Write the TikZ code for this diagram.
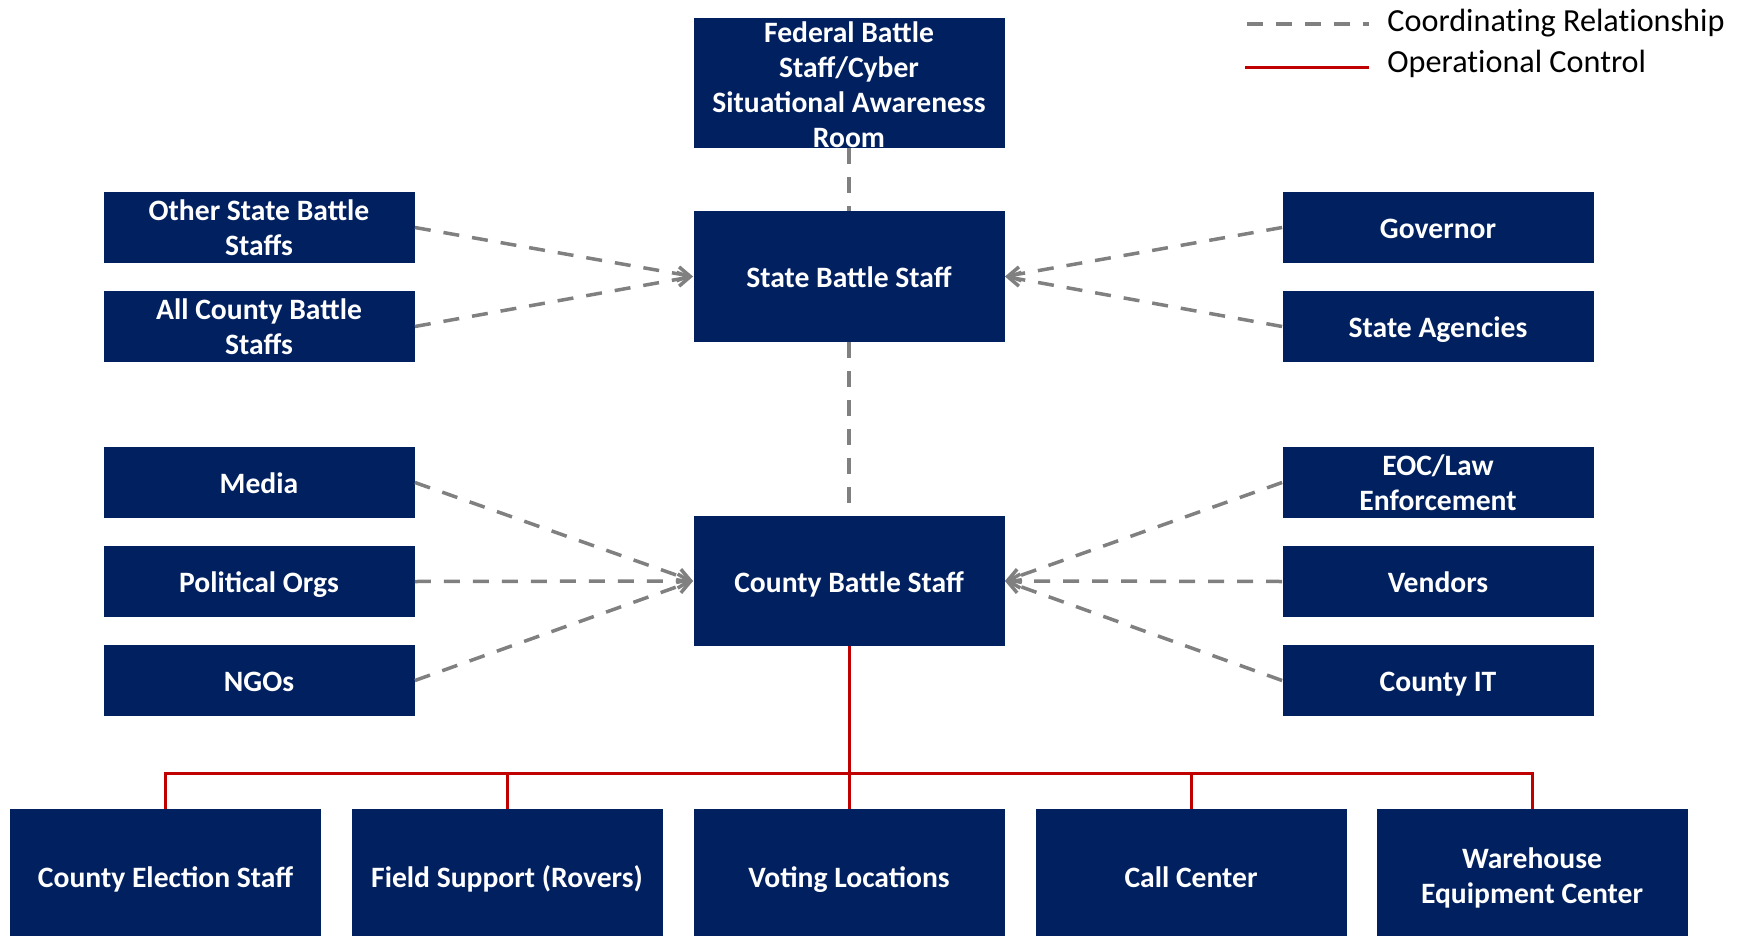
\documentclass[tikz,border=0pt]{standalone}
\usepackage{fontspec}
\setmainfont{Carlito}
\usetikzlibrary{arrows.meta}
\definecolor{boxblue}{HTML}{002060}
\definecolor{linegray}{HTML}{808080}
\definecolor{ctrlred}{HTML}{C00000}
\tikzset{
  unitbox/.style={fill=boxblue, text=white, inner sep=0pt, align=center,
    font=\fontsize{14.8}{17.5}\selectfont\bfseries,
    minimum width=155.5pt, minimum height=35.5pt},
  oneline/.style={text height=11pt, text depth=0pt},
  bigbox/.style={unitbox, minimum height=65pt},
  basebox/.style={unitbox, minimum height=67pt},
  boxtext/.style={text=white, inner sep=0pt, align=center,
    font=\fontsize{14.8}{17.5}\selectfont\bfseries},
  coordline/.style={draw=linegray, line width=1.75pt, dash pattern=on 8pt off 6.5pt},
  coordarrow/.style={coordline, -{Straight Barb[length=6pt,width=7pt,line width=1.75pt]}},
  ctrlline/.style={draw=ctrlred, line width=1.5pt},
  legendtext/.style={inner sep=0pt,
    font=\fontsize{16.1}{19}\selectfont\addfontfeature{Ligatures=NoCommon}}
}
\begin{document}
\begin{tikzpicture}[x=0.5pt, y=-0.5pt]
\useasboundingbox (0,0) rectangle (1744,936);
% Centre column
    \node[bigbox] (fed) at (849,83) {};
    \node[boxtext] (fedtext) at (849,85) {Federal Battle\\Staff/Cyber\\Situational Awareness\\Room};
    \node[bigbox, oneline] (state) at (849,276.5) {State Battle Staff};
    \node[bigbox, oneline] (county) at (849,581) {County Battle Staff};
% State level partners
    \node[unitbox] (otherstate) at (259,227.5) {Other State Battle\\Staffs};
    \node[unitbox] (allcounty) at (259,326.5) {All County Battle\\Staffs};
    \node[unitbox, oneline] (governor) at (1438,227.5) {Governor};
    \node[unitbox, oneline] (agencies) at (1438,326.5) {State Agencies};
% County level partners
    \node[unitbox, oneline] (media) at (259,482.5) {Media};
    \node[unitbox, oneline] (polorgs) at (259,581.5) {Political Orgs};
    \node[unitbox, oneline] (ngos) at (259,680.5) {NGOs};
    \node[unitbox] (eoc) at (1438,482.5) {EOC/Law\\Enforcement};
    \node[unitbox, oneline] (vendors) at (1438,581.5) {Vendors};
    \node[unitbox, oneline] (countyit) at (1438,680.5) {County IT};
% Units under operational control
    \node[basebox, oneline] (election) at (165.5,876) {County Election Staff};
    \node[basebox, oneline] (field) at (507,876) {Field Support (Rovers)};
    \node[basebox, oneline] (voting) at (849,876) {Voting Locations};
    \node[basebox, oneline] (callcenter) at (1191,876) {Call Center};
    \node[basebox, minimum height=69pt] (warehouse) at (1532,878) {Warehouse\\Equipment Center};
% Coordinating relationships
    \draw[coordline] (fed.south) -- (state.north);
    \draw[coordline] (state.south) -- (county.north);
    \draw[coordarrow] (otherstate.east) -- (state.west);
    \draw[coordarrow] (allcounty.east) -- (state.west);
    \draw[coordarrow] (governor.west) -- (state.east);
    \draw[coordarrow] (agencies.west) -- (state.east);
    \draw[coordarrow] (media.east) -- (county.west);
    \draw[coordarrow] (polorgs.east) -- (county.west);
    \draw[coordarrow] (ngos.east) -- (county.west);
    \draw[coordarrow] (eoc.west) -- (county.east);
    \draw[coordarrow] (vendors.west) -- (county.east);
    \draw[coordarrow] (countyit.west) -- (county.east);
% Operational control
    \coordinate (bus) at (849,773);
    \draw[ctrlline] (county.south) -- (voting.north);
    \draw[ctrlline] (election.north) |- (bus) -| (warehouse.north);
    \draw[ctrlline] (field.north) -- (field.north |- bus);
    \draw[ctrlline] (callcenter.north) -- (callcenter.north |- bus);
% Legend
    \coordinate (legdashA) at (1247,24);
    \coordinate (legdashB) at (1369,24);
    \coordinate (legredA) at (1245,68);
    \coordinate (legredB) at (1369,68);
    \draw[coordline] (legdashA) -- (legdashB);
    \draw[ctrlline] (legredA) -- (legredB);
    \node[legendtext, anchor=base west] (legcoord) at (1387,32) {Coordinating Relationship};
    \node[legendtext, anchor=base west] (legctrl) at (1387,73) {Operational Control};
\end{tikzpicture}
\end{document}
